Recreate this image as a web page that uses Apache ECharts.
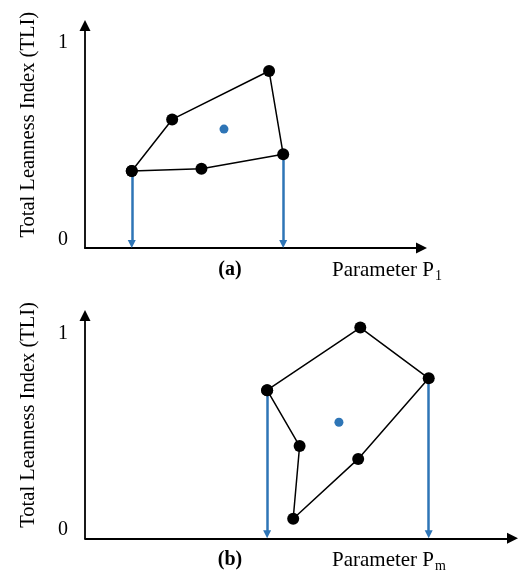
<!DOCTYPE html>
<html>
<head>
<meta charset="utf-8">
<script src="https://cdn.jsdelivr.net/npm/echarts@6/dist/echarts.min.js"></script>
<style>html,body{margin:0;padding:0;background:#fff}#c{width:531px;height:575px}</style>
</head>
<body>
<div id="c"></div>
<script>
// Panel (a) polygon vertices (in drawing order)
const polyAX = [1.39, 2.59, 5.47, 5.89, 3.46];
const polyAY = [0.351, 0.613, 0.859, 0.436, 0.363];
const centerA = [4.13, 0.564];
const arrowAX = [1.39, 5.89];
const arrowAY = [0.351, 0.436];
// Panel (b) polygon vertices
const polyBX = [4.26, 6.44, 8.04, 6.39, 4.87, 5.02];
const polyBY = [0.713, 1.034, 0.774, 0.361, 0.054, 0.427];
const centerB = [5.94, 0.549];
const arrowBX = [4.26, 8.04];
const arrowBY = [0.713, 0.774];
const arrowEndA = -0.02;
const arrowEndB = -0.025;
const tickValues = [0, 1];
const yName = 'Total Leanness Index (TLI)';

const FONT = '"Liberation Serif", "Times New Roman", serif';
const BLUE = '#2E75B6';

function closed(xs, ys) {
  const d = xs.map((x, i) => [x, ys[i]]);
  d.push([xs[0], ys[0]]);
  return d;
}
function arrows(xs, ys, end) {
  return xs.map((x, i) => ({ coords: [[x, ys[i]], [x, end]] }));
}

const axisLineStyle = { color: '#000', width: 1.8 };
function xAxis(idx) {
  return {
    type: 'value', gridIndex: idx, min: 0, max: 10,
    axisLine: { show: true, onZero: false, lineStyle: axisLineStyle, symbol: ['none', 'triangle'], symbolSize: [11, 11] },
    axisTick: { show: false }, axisLabel: { show: false }, splitLine: { show: false }
  };
}
function yAxis(idx, min, max) {
  return {
    type: 'value', gridIndex: idx, min: min, max: max,
    name: yName, nameLocation: 'middle', nameGap: 46,
    nameTextStyle: { fontFamily: FONT, fontSize: 20.5, color: '#000', padding: [0, 0, 0, 24] },
    axisLine: { show: true, onZero: false, lineStyle: axisLineStyle, symbol: ['none', 'triangle'], symbolSize: [11, 11] },
    axisTick: { show: false },
    axisLabel: { show: true, customValues: tickValues, fontFamily: FONT, fontSize: 20, color: '#000', margin: 17 },
    splitLine: { show: false }
  };
}
function polySeries(idx, data) {
  return {
    type: 'line', xAxisIndex: idx, yAxisIndex: idx, data: data,
    symbol: 'circle', symbolSize: 12, itemStyle: { color: '#000' },
    lineStyle: { color: '#000', width: 1.5 }, z: 5, silent: true, animation: false
  };
}
function centerSeries(idx, pt) {
  return {
    type: 'scatter', xAxisIndex: idx, yAxisIndex: idx, data: [pt],
    symbol: 'circle', symbolSize: 9, itemStyle: { color: BLUE, opacity: 1 }, z: 6, animation: false
  };
}
function arrowSeries(idx, data) {
  return {
    type: 'lines', coordinateSystem: 'cartesian2d', xAxisIndex: idx, yAxisIndex: idx,
    data: data, symbol: ['none', 'triangle'], symbolSize: 8,
    lineStyle: { color: BLUE, width: 2.5, opacity: 1, curveness: 0 }, z: 4, animation: false
  };
}
function sub(label, main, s, x, y) {
  return [
    { type: 'text', x: x - 102, y: y, style: { text: label, font: 'bold 20px ' + FONT, fill: '#000', align: 'center', verticalAlign: 'middle' } },
    { type: 'text', x: x, y: y, style: {
      text: '{n|' + main + '}{s|' + s + '}', verticalAlign: 'middle', align: 'left', fill: '#000',
      rich: { n: { fontFamily: FONT, fontSize: 21, lineHeight: 21 }, s: { fontFamily: FONT, fontSize: 14, lineHeight: 14, padding: [12, 0, 0, 1] } }
    } }
  ];
}

const chart = echarts.init(document.getElementById('c'), null, { renderer: 'canvas' });
chart.setOption({
  backgroundColor: '#fff',
  animation: false,
  grid: [
    { left: 85, top: 25.5, width: 336.5, height: 222.5 },
    { left: 85, top: 315.5, width: 427.5, height: 222.8 }
  ],
  xAxis: [xAxis(0), xAxis(1)],
  yAxis: [yAxis(0, -0.04, 1.09), yAxis(1, -0.046, 1.096)],
  series: [
    arrowSeries(0, arrows(arrowAX, arrowAY, arrowEndA)),
    polySeries(0, closed(polyAX, polyAY)),
    centerSeries(0, centerA),
    arrowSeries(1, arrows(arrowBX, arrowBY, arrowEndB)),
    polySeries(1, closed(polyBX, polyBY)),
    centerSeries(1, centerB)
  ],
  graphic: [].concat(sub('(a)', 'Parameter P', '1', 332, 270), sub('(b)', 'Parameter P', 'm', 332, 560))
});
</script>
</body>
</html>
